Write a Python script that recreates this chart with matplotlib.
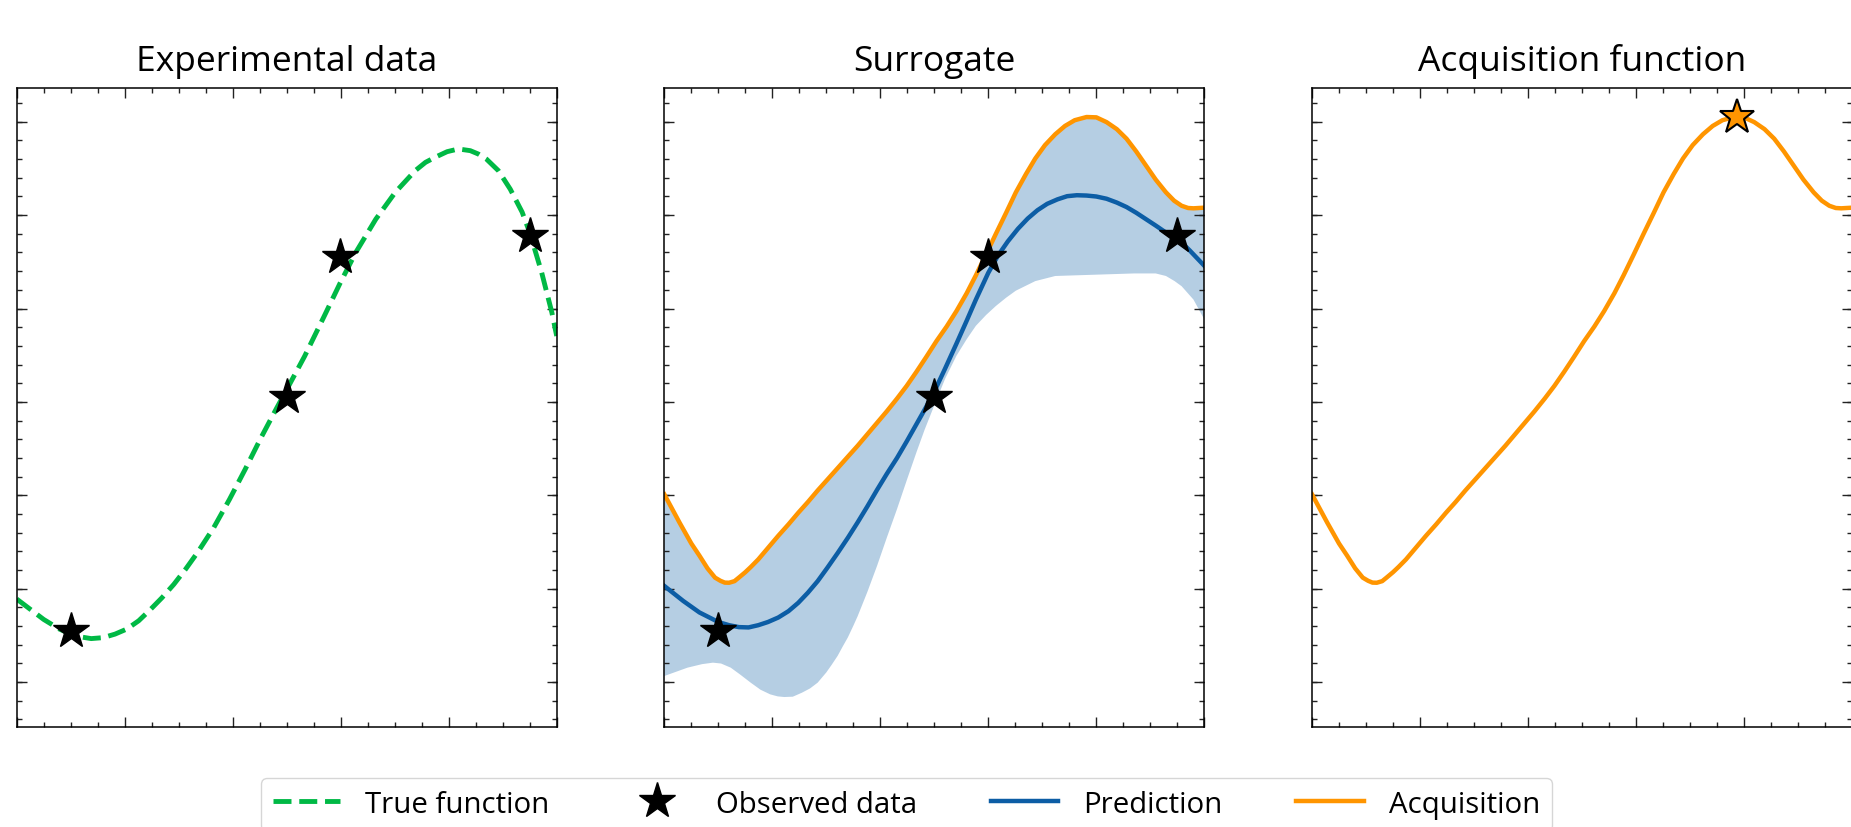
import matplotlib
matplotlib.use("Agg")
import matplotlib.pyplot as plt
from matplotlib.ticker import MultipleLocator
from matplotlib.lines import Line2D

plt.rcParams['font.family'] = ['Open Sans', 'DejaVu Sans']

# y values are read as a fraction of the panel height (0 = bottom, 1 = top)

# true function (panel 1)
x_true = [0.0, 0.025, 0.05, 0.079, 0.1, 0.116, 0.138, 0.16, 0.182, 0.204,
          0.226, 0.247, 0.269, 0.291, 0.313, 0.335, 0.365, 0.394, 0.423, 0.452,
          0.482, 0.5, 0.533, 0.57, 0.599, 0.628, 0.665, 0.701, 0.738, 0.757,
          0.775, 0.797, 0.818, 0.84, 0.855, 0.87, 0.892, 0.914, 0.936, 0.95,
          0.972, 0.991, 1.0]
y_true = [0.2, 0.184, 0.168, 0.153, 0.145, 0.141, 0.138, 0.1395, 0.145, 0.153,
          0.166, 0.183, 0.202, 0.223, 0.247, 0.273, 0.312, 0.356, 0.403, 0.452,
          0.5, 0.528, 0.58, 0.644, 0.695, 0.743, 0.795, 0.837, 0.871, 0.884,
          0.892, 0.9007, 0.905, 0.9023, 0.897, 0.889, 0.871, 0.842, 0.806, 0.774,
          0.712, 0.649, 0.612]

# observed data
x_obs = [0.100, 0.500, 0.599, 0.950]
y_obs = [0.150, 0.516, 0.735, 0.768]

# surrogate mean
x_mean = [0.0, 0.035, 0.065, 0.1, 0.12, 0.138, 0.156, 0.174, 0.192, 0.211,
          0.23, 0.248, 0.266, 0.284, 0.302, 0.321, 0.34, 0.358, 0.376, 0.394,
          0.412, 0.431, 0.449, 0.467, 0.485, 0.5, 0.52, 0.541, 0.56, 0.577,
          0.6, 0.618, 0.636, 0.655, 0.673, 0.691, 0.709, 0.728, 0.746, 0.764,
          0.782, 0.8, 0.819, 0.838, 0.856, 0.874, 0.892, 0.91, 0.929, 0.95,
          0.973, 1.0]
y_mean = [0.2205, 0.197, 0.179, 0.164, 0.159, 0.156, 0.1555, 0.159, 0.164, 0.171,
          0.181, 0.194, 0.210, 0.228, 0.249, 0.272, 0.296, 0.320, 0.345, 0.371,
          0.396, 0.421, 0.447, 0.474, 0.501, 0.525, 0.561, 0.600, 0.636, 0.669,
          0.711, 0.738, 0.760, 0.780, 0.796, 0.809, 0.819, 0.826, 0.831, 0.8325,
          0.832, 0.8305, 0.827, 0.821, 0.814, 0.805, 0.795, 0.785, 0.774, 0.765,
          0.746, 0.722]

# upper bound of the surrogate = acquisition
x_upper = [0.0, 0.028, 0.05, 0.065, 0.08, 0.094, 0.104, 0.112, 0.12, 0.13,
           0.138, 0.15, 0.16, 0.174, 0.192, 0.211, 0.23, 0.248, 0.266, 0.284,
           0.302, 0.321, 0.34, 0.358, 0.376, 0.394, 0.412, 0.431, 0.449, 0.467,
           0.485, 0.504, 0.523, 0.541, 0.56, 0.577, 0.596, 0.614, 0.633, 0.651,
           0.67, 0.687, 0.705, 0.724, 0.742, 0.76, 0.782, 0.8, 0.819, 0.838,
           0.856, 0.874, 0.892, 0.91, 0.929, 0.944, 0.958, 0.97, 0.98, 0.99, 1.0]
y_upper = [0.364, 0.320, 0.287, 0.268, 0.248, 0.2335, 0.2285, 0.2257, 0.2255, 0.228,
           0.2335, 0.242, 0.250, 0.262, 0.280, 0.299, 0.317, 0.335, 0.352, 0.370,
           0.387, 0.405, 0.423, 0.440, 0.458, 0.476, 0.494, 0.514, 0.534, 0.556,
           0.579, 0.604, 0.627, 0.651, 0.679, 0.707, 0.740, 0.772, 0.805, 0.837,
           0.866, 0.890, 0.911, 0.928, 0.941, 0.950, 0.955, 0.9545, 0.947, 0.936,
           0.921, 0.901, 0.879, 0.857, 0.837, 0.824, 0.816, 0.8125, 0.812, 0.8125, 0.813]

# lower bound of the surrogate
x_lower = [0.0, 0.043, 0.07, 0.09, 0.105, 0.123, 0.14, 0.16, 0.178, 0.196,
           0.21, 0.222, 0.238, 0.255, 0.27, 0.284, 0.3, 0.31, 0.321, 0.33,
           0.34, 0.35, 0.358, 0.376, 0.394, 0.412, 0.431, 0.449, 0.467, 0.482,
           0.497, 0.52, 0.541, 0.56, 0.577, 0.596, 0.614, 0.633, 0.651, 0.687,
           0.724, 0.76, 0.797, 0.87, 0.91, 0.929, 0.945, 0.958, 0.98, 1.0]
y_lower = [0.0794, 0.0925, 0.098, 0.1003, 0.099, 0.0925, 0.082, 0.069, 0.058, 0.0507,
           0.0475, 0.0465, 0.047, 0.0533, 0.060, 0.069, 0.085, 0.097, 0.111, 0.125,
           0.14, 0.158, 0.173, 0.211, 0.252, 0.296, 0.341, 0.386, 0.430, 0.465,
           0.497, 0.545, 0.581, 0.607, 0.628, 0.645, 0.659, 0.672, 0.683, 0.698,
           0.706, 0.707, 0.708, 0.710, 0.710, 0.706, 0.698, 0.690, 0.669, 0.638]

# next point proposed by the acquisition function
x_next = [0.787]
y_next = [0.9545]

titles = ["Experimental data", "Surrogate", "Acquisition function"]
legend_labels = ["True function", "Observed data", "Prediction", "Acquisition"]

blue = "#0C5DA5"
green = "#00B945"
orange = "#FF9500"

W, H = 1851, 828
fig = plt.figure(figsize=(W / 100, H / 100), dpi=100)

ax_w, ax_h = 540 / W, 638.4 / H
ax_bottom = 1 - 727.7 / H
lefts = [16.7 / W, 664.3 / W, 1312 / W]
axes = [fig.add_axes([l, ax_bottom, ax_w, ax_h]) for l in lefts]

for ax, title in zip(axes, titles):
    ax.set_xlim(0, 1)
    ax.set_ylim(0, 1)
    ax.xaxis.set_major_locator(MultipleLocator(0.2))
    ax.xaxis.set_minor_locator(MultipleLocator(0.05))
    ax.yaxis.set_major_locator(MultipleLocator(0.1463, offset=0.0698))
    ax.yaxis.set_minor_locator(MultipleLocator(0.02926, offset=0.0113))
    ax.tick_params(which='both', direction='in', top=True, right=True,
                   labelbottom=False, labelleft=False, width=1.0, color='#222222')
    ax.tick_params(which='major', length=7.2)
    ax.tick_params(which='minor', length=3.6)
    for s in ax.spines.values():
        s.set_linewidth(1.1)
    ax.set_title(title, fontsize=25.5, pad=13.5)

ax1, ax2, ax3 = axes
star_kw = dict(marker='*', ms=27, ls='none', color='black', zorder=5)

ax1.plot(x_true, y_true, '--', color=green, lw=3.5)
ax1.plot(x_obs, y_obs, **star_kw)

ax2.fill(x_upper + x_lower[::-1], y_upper + y_lower[::-1], color=blue, alpha=0.3, lw=0)
ax2.plot(x_mean, y_mean, color=blue, lw=3.2)
ax2.plot(x_upper, y_upper, color=orange, lw=3.2)
ax2.plot(x_obs, y_obs, **star_kw)

ax3.plot(x_upper, y_upper, color=orange, lw=3.2)
ax3.plot(x_next, y_next, marker='*', ms=26, ls='none', mfc=orange,
         mec='black', mew=1.5, zorder=5)

handles = [
    Line2D([], [], ls='--', color=green, lw=3.5),
    Line2D([], [], marker='*', ms=27, ls='none', color='black'),
    Line2D([], [], color=blue, lw=3.2),
    Line2D([], [], color=orange, lw=3.2),
]
fig.legend(handles, legend_labels, loc='upper center', ncol=4,
           bbox_to_anchor=(906.5 / W, 1 - 779 / H), borderaxespad=0,
           fontsize=21.2, frameon=True, fancybox=True, edgecolor='#cccccc',
           handlelength=2.3, handletextpad=0.85, columnspacing=2.5,
           borderpad=0.4)

fig.savefig("out.png", dpi=100)
